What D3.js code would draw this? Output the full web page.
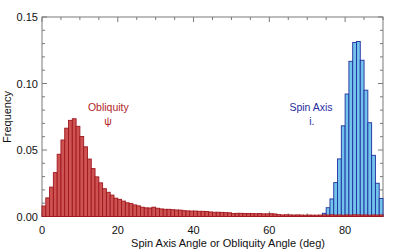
<!DOCTYPE html>
<html>
<head>
<meta charset="utf-8">
<script src="https://cdn.jsdelivr.net/npm/d3@7"></script>
<style>
  html, body { margin: 0; padding: 0; background: #fff; }
  svg { display: block; font-family: "Liberation Sans", Arial, sans-serif; }
</style>
</head>
<body>
<div id="chart"></div>
<script>
// --- Data (1 degree bins) ---
const obliquityFreq = [
  0.0079, 0.0140, 0.0221, 0.0330, 0.0468, 0.0575, 0.0664, 0.0723, 0.0735, 0.0678,
  0.0602, 0.0524, 0.0432, 0.0360, 0.0298, 0.0253, 0.0209, 0.0182, 0.0161, 0.0138,
  0.0129, 0.0116, 0.0103, 0.0097, 0.0087, 0.0080, 0.0070, 0.0065, 0.0064, 0.0070,
  0.0062, 0.0057, 0.0054, 0.0054, 0.0051, 0.0049, 0.0048, 0.0044, 0.0042, 0.0041,
  0.0041, 0.0039, 0.0039, 0.0038, 0.0034, 0.0032, 0.0032, 0.0031, 0.0029, 0.0028,
  0.0022, 0.0024, 0.0024, 0.0023, 0.0023, 0.0022, 0.0021, 0.0022, 0.0020, 0.0020,
  0.0021, 0.0019, 0.0014, 0.0012, 0.0013, 0.0012, 0.0011, 0.0012, 0.0011, 0.0010,
  0.0011, 0.0010, 0.0010, 0.0011, 0.0012, 0.0011, 0.0013, 0.0011, 0.0012, 0.0010,
  0.0012, 0.0011, 0.0013, 0.0012, 0.0011, 0.0012, 0.0010, 0.0012, 0.0011, 0.0012
];
const spinAxisFirstBin = 74;
const spinAxisFreq = [
  0.0024, 0.0066, 0.0132, 0.0255, 0.0433, 0.0682, 0.0921, 0.1167,
  0.1308, 0.1316, 0.1175, 0.0950, 0.0705, 0.0460, 0.0250, 0.0136
];
const xTicks = [0, 20, 40, 60, 80];
const yTicks = [0, 0.05, 0.10, 0.15];

// --- Setup ---
const W = 399, H = 252;
const margin = { top: 17, right: 16, bottom: 35.5, left: 42 };
const width = W - margin.left - margin.right;
const height = H - margin.top - margin.bottom;

const svg = d3.select("#chart").append("svg")
  .attr("width", W).attr("height", H);
const g = svg.append("g")
  .attr("transform", `translate(${margin.left},${margin.top})`);

const x = d3.scaleLinear().domain([0, 90]).range([0, width]);
const y = d3.scaleLinear().domain([0, 0.15]).range([height, 0]);

const axisColor = "#7a7a7a";

// --- Frame ---
g.append("rect")
  .attr("x", 0).attr("y", 0)
  .attr("width", width).attr("height", height)
  .attr("fill", "none").attr("stroke", axisColor).attr("stroke-width", 1);

// --- Ticks (inside) ---
const minorX = d3.range(0, 91, 5);
const minorY = d3.range(0, 0.1501, 0.01);
minorX.forEach(v => {
  const len = v % 20 === 0 ? 5 : 3;
  [[height, height - len], [0, len]].forEach(([a, b]) => {
    g.append("line")
      .attr("x1", x(v)).attr("x2", x(v)).attr("y1", a).attr("y2", b)
      .attr("stroke", axisColor);
  });
});
minorY.forEach((v, i) => {
  const len = i % 5 === 0 ? 5 : 3;
  [[0, len], [width, width - len]].forEach(([a, b]) => {
    g.append("line")
      .attr("x1", a).attr("x2", b).attr("y1", y(v)).attr("y2", y(v))
      .attr("stroke", axisColor);
  });
});

// --- Bars ---
const bw = x(1) - x(0);
g.selectAll("rect.spin")
  .data(spinAxisFreq)
  .enter().append("rect")
  .attr("class", "spin")
  .attr("x", (d, i) => x(spinAxisFirstBin + i))
  .attr("y", d => y(d))
  .attr("width", bw)
  .attr("height", d => y(0) - y(d))
  .attr("fill", "#72c3ec")
  .attr("stroke", "#1f2f9e")
  .attr("stroke-width", 0.9);

g.selectAll("rect.obl")
  .data(obliquityFreq)
  .enter().append("rect")
  .attr("class", "obl")
  .attr("x", (d, i) => x(i))
  .attr("y", d => y(d))
  .attr("width", bw)
  .attr("height", d => y(0) - y(d))
  .attr("fill", "#cd5353")
  .attr("stroke", "#a0161c")
  .attr("stroke-width", 0.9);

// --- Tick labels ---
g.selectAll("text.xt")
  .data(xTicks).enter().append("text")
  .attr("x", d => x(d)).attr("y", height + 17.5)
  .attr("text-anchor", "middle")
  .attr("font-size", "11px").attr("fill", "#111")
  .text(d => d);

g.selectAll("text.yt")
  .data(yTicks).enter().append("text")
  .attr("x", -4).attr("y", d => y(d) + 4)
  .attr("text-anchor", "end")
  .attr("font-size", "11px").attr("fill", "#111")
  .text(d => d.toFixed(2));

// --- Axis titles ---
g.append("text")
  .attr("x", 186).attr("y", height + 30)
  .attr("text-anchor", "middle")
  .attr("font-size", "11px").attr("fill", "#111")
  .text("Spin Axis Angle or Obliquity Angle (deg)");

svg.append("text")
  .attr("transform", "translate(11,117) rotate(-90)")
  .attr("text-anchor", "middle")
  .attr("font-size", "11px").attr("fill", "#111")
  .text("Frequency");

// --- Series labels ---
g.append("text")
  .attr("x", x(17.5)).attr("y", y(0.0795))
  .attr("text-anchor", "middle")
  .attr("font-size", "10.5px").attr("fill", "#b01e28")
  .text("Obliquity");
g.append("text")
  .attr("x", x(17.4)).attr("y", y(0.069))
  .attr("text-anchor", "middle")
  .attr("font-size", "10.5px").attr("fill", "#b01e28")
  .text("ψ");

g.append("text")
  .attr("x", x(71)).attr("y", y(0.0795))
  .attr("text-anchor", "middle")
  .attr("font-size", "10.5px").attr("fill", "#2a2ca0")
  .text("Spin Axis");
g.append("text")
  .attr("x", x(71.2)).attr("y", y(0.069))
  .attr("text-anchor", "middle")
  .attr("font-size", "10.5px").attr("fill", "#2a2ca0")
  .text("i.");
</script>
</body>
</html>
